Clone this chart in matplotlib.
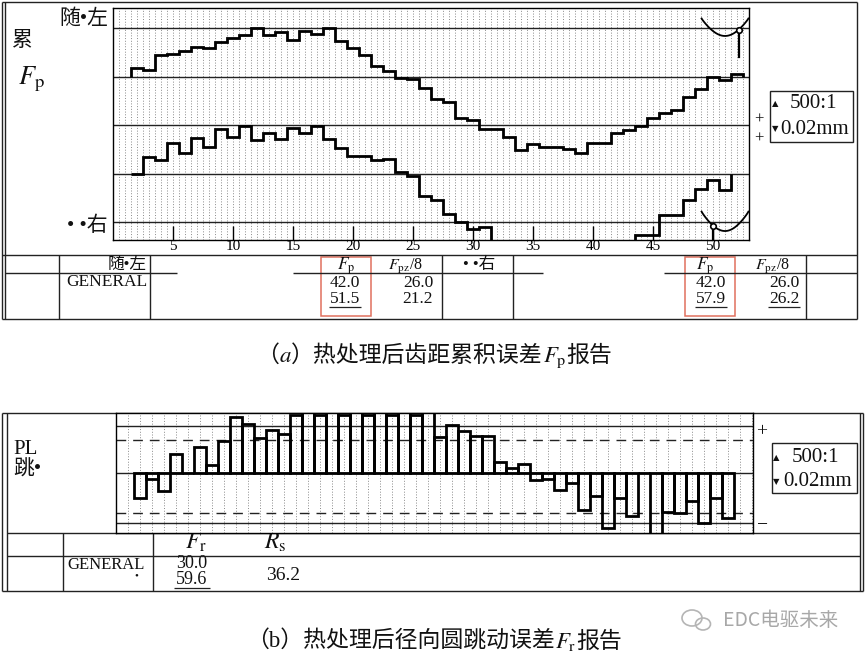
import numpy as np
import matplotlib
matplotlib.use("Agg")
import matplotlib.pyplot as plt
from matplotlib.patches import Rectangle, Ellipse

plt.rcParams["mathtext.fontset"] = "stix"
plt.rcParams["font.family"] = ["Liberation Serif", "Noto Sans CJK SC", "DejaVu Sans"]

W, H = 868, 659

# ---- (a) cumulative pitch deviation, one step per tooth (um) ----
left_flank = [3.7, 2.8, 8.8, 9.3, 10.5, 12.4, 11.7, 14.5, 16.1, 17.1, 20.0, 17.1, 18.6,
              15.2, 18.8, 17.8, 20.0, 14.6, 12.0, 8.9, 4.5, 2.2, -0.4, -1.1, -4.8, -9.0,
              -10.6, -17.0, -17.8, -21.4, -21.6, -24.8, -30.0, -27.9, -29.0, -29.0, -29.8,
              -31.5, -27.2, -27.2, -23.1, -22.0, -20.3, -17.2, -15.1, -13.7, -8.2, -5.2,
              -0.2, -1.4, 1.1]
right_flank = [0.0, 6.9, 5.7, 12.7, 8.6, 14.6, 11.0, 18.6, 15.3, 19.6, 13.8, 16.6, 14.5,
               19.0, 16.9, 19.6, 14.5, 10.5, 7.3, 7.3, 5.5, 5.9, 0.7, -1.0, -9.2, -11.0,
               -16.6, -20.0, -22.8, -22.1, -30.5, -33.0, -35.0, -36.5, -37.5, -38.2, -37.8,
               -36.6, -35.2, -33.4, -31.3, -29.2, -25.4, -25.4, -17.2, -17.2, -11.0, -6.2,
               -2.4, -6.5]
ticks_a = [5, 10, 15, 20, 25, 30, 35, 40, 45, 50]

# ---- (b) radial runout per tooth (um) ----
runout = [-10.3, -2.5, -7.5, 8.1, 0.0, 10.9, 3.3, 13.4, 23.3, 20.2, 14.4, 17.7, 16.1,
          24.0, 27.0, 24.0, 28.0, 24.0, 29.6, 24.0, 28.0, 24.0, 27.5, 24.0, 26.5,
          15.0, 20.0, 17.6, 15.3, 15.4, 4.8, 2.3, 3.8, -2.8, -2.2, -6.8, -4.2, -15.1,
          -9.5, -22.4, -10.1, -17.6, 0.0, -30.0, -15.8, -16.3, -11.5, -20.5, -10.2, -18.5]

fig = plt.figure(figsize=(W / 100, H / 100), dpi=100)

# overlay in pixel coordinates for frames, tables and labels
ov = fig.add_axes([0, 0, 1, 1])
ov.set_xlim(0, W)
ov.set_ylim(H, 0)
ov.axis("off")


def px_axes(x0, y0, x1, y1):
    return fig.add_axes([x0 / W, 1 - y1 / H, (x1 - x0) / W, (y1 - y0) / H])


def hline(y, x0, x1, lw=1.0, color="#222222"):
    ov.plot([x0, x1], [y, y], color=color, lw=lw, solid_capstyle="butt")


def vline(x, y0, y1, lw=1.0, color="#222222"):
    ov.plot([x, x], [y0, y1], color=color, lw=lw, solid_capstyle="butt")


def txt(x, y, s, size=12, ha="center", va="center", **kw):
    ov.text(x, y, s, fontsize=size, ha=ha, va=va, color="#111111", **kw)


def rich(xc, y, parts, size):
    """Lay text pieces side by side (CJK and mathtext can't share one string)."""
    r = fig.canvas.get_renderer()
    items = [ov.text(0, y, s, fontsize=size, ha="left", va="baseline", color="#111111")
             for s in parts]
    widths = [t.get_window_extent(r).width for t in items]
    x = xc - sum(widths) / 2
    for t, w in zip(items, widths):
        t.set_x(x)
        x += w


def underline(xc, y, half=16):
    hline(y, xc - half, xc + half, lw=0.9)


def flank_symbol(ax, c, top, depth, t_dot, dot_to):
    t = np.linspace(-1, 1, 80)
    s = ((1 + np.cos(np.pi * t)) / 2) ** 0.45
    xs = c + 1.95 * t
    ys = top - depth * s
    ax.plot(xs, ys, color="k", lw=1.3, clip_on=False)
    sd = ((1 + np.cos(np.pi * t_dot)) / 2) ** 0.45
    xd, yd = c + 1.95 * t_dot, top - depth * sd
    ax.plot([xd, xd], [yd, dot_to], color="k", lw=1.6, clip_on=False)
    ax.plot(xd, yd, "o", ms=4, mfc="white", mec="k", mew=1.2, clip_on=False)


# ================= panel (a) =================
ax = px_axes(113, 8.3, 749, 240)
ax.set_xlim(0, 53)
ax.set_ylim(-67.3, 28.2)
for x in np.arange(0.5, 53, 0.5):
    ax.axvline(x, color="#8a8a8a", lw=0.7, ls=(0, (1, 1.8)), zorder=1)
for y in [20, 0, -20, -40, -60]:
    ax.axhline(y, color="#222222", lw=1.0, zorder=2)

edges_l = np.arange(len(left_flank) + 1) + 1.5
edges_r = np.arange(len(right_flank) + 1) + 1.5
ax.stairs(left_flank, edges_l, baseline=0, color="k", lw=2.0, zorder=3)
ax.stairs(np.array(right_flank) - 40, edges_r, baseline=-40, color="k", lw=2.0, zorder=3)

flank_symbol(ax, 51.0, 24.0, 7.2, 0.58, 8.3)
flank_symbol(ax, 51.0, -55.6, 8.0, -0.5, -67.3)

ax.set_xticks(ticks_a)
ax.tick_params(axis="x", direction="in", length=10, width=1, labelsize=11, pad=0.3)
ax.set_yticks([])
for sp in ax.spines.values():
    sp.set_linewidth(1.0)

# frame (a)
hline(1.5, 1.5, 857)
vline(1.5, 1.5, 319)
vline(5.0, 1.5, 319)
vline(857, 1.5, 319)
hline(255, 1.5, 857)
hline(319, 1.5, 857)
hline(273, 5, 177)
hline(273, 293, 543)
hline(273, 664, 857)
for xv in [59, 150, 442, 513, 806]:
    vline(xv, 255, 319)

txt(108, 19, "随•左", 15, ha="right")
txt(22, 42, "累", 15)
txt(31, 79, r"$F_{\mathrm{p}}$", 19)
txt(108, 226, "• •右", 15, ha="right")
txt(759, 120, "+", 12)
txt(759, 139, "+", 12)
ov.add_patch(Rectangle((770, 91), 83, 51, fill=False, lw=1.0, ec="#222222"))
txt(775, 104, "▲", 6, family="DejaVu Sans")
txt(775, 129, "▼", 6, family="DejaVu Sans")
txt(813, 104, "500:1", 15)
txt(815, 129, "0.02mm", 15)

# table (a)
txt(147, 265, "随•左", 12, ha="right")
txt(147, 282, "GENERAL", 12.5, ha="right")
txt(346, 266, r"$F_{\mathrm{p}}$", 12.5)
txt(405, 266, r"$F_{\mathrm{pz}}$/8", 11.5)
txt(345, 283, "42.0", 12.5)
txt(345, 299, "51.5", 12.5)
underline(345, 307)
txt(433, 283, "26.0", 12.5, ha="right")
txt(433, 299, "21.2", 12.5, ha="right")
txt(479, 265, "• •右", 12)
txt(705, 266, r"$F_{\mathrm{p}}$", 12.5)
txt(772, 266, r"$F_{\mathrm{pz}}$/8", 11.5)
txt(711, 283, "42.0", 12.5)
txt(711, 299, "57.9", 12.5)
underline(711, 307)
txt(800, 283, "26.0", 12.5, ha="right")
txt(800, 299, "26.2", 12.5, ha="right")
underline(784, 307)
for bx in [321, 685]:
    ov.add_patch(Rectangle((bx, 257), 50, 59, fill=False, lw=1.1, ec="#e0705e"))

rich(434, 362, ["（", "$a$", "）热处理后齿距累积误差", r"$F_{\mathrm{p}}$", "报告"], 16.5)

# ================= panel (b) =================
bx_ = px_axes(116, 413.3, 753, 532.7)
bx_.set_xlim(0, 53.08)
bx_.set_ylim(-24.5, 24.74)
for x in np.arange(1, 54):
    bx_.axvline(x, color="#8a8a8a", lw=0.7, ls=(0, (1, 1.8)), zorder=1)
for y in [19.6, 0, -20.6]:
    bx_.axhline(y, color="#222222", lw=1.0, zorder=2)
for y in [13.7, -16.2]:
    bx_.axhline(y, color="#222222", lw=1.0, ls=(0, (7, 5)), zorder=2)
bx_.bar(np.arange(2, 2 + len(runout)), runout, width=1.0, fill=False,
        edgecolor="k", lw=2.0, zorder=3)
bx_.set_xticks([])
bx_.set_yticks([])
for sp in bx_.spines.values():
    sp.set_linewidth(1.0)

# frame (b)
hline(413.3, 1.5, 863)
vline(1.7, 413.3, 591)
vline(7.3, 413.3, 591)
vline(860, 413.3, 591)
vline(863.3, 413.3, 591)
hline(533, 7.3, 860)
hline(556, 7.3, 860)
hline(591, 1.5, 863.3)
vline(63.3, 533, 591)
vline(152.7, 533, 591)

txt(13, 450, "PL", 15, ha="left")
txt(13, 470, "跳•", 15, ha="left")
txt(762, 432, "+", 14)
txt(762, 525, "−", 14)
ov.add_patch(Rectangle((771.7, 443.3), 85.6, 50, fill=False, lw=1.0, ec="#222222"))
txt(776, 458, "▲", 6, family="DejaVu Sans")
txt(776, 482, "▼", 6, family="DejaVu Sans")
txt(815, 458, "500:1", 15)
txt(818, 482, "0.02mm", 15)

txt(196, 542, r"$F_{\mathrm{r}}$", 17)
txt(275, 542, r"$R_{\mathrm{s}}$", 17)
txt(67, 565, "GENERAL", 12, ha="left")
txt(136, 576, "•", 8)
txt(192, 563, "30.0", 13)
txt(192, 579, "59.6", 13)
underline(192, 588, 18)
txt(283, 576, "36.2", 14)

rich(434, 648, ["（b）热处理后径向圆跳动误差", r"$F_{\mathrm{r}}$", "报告"], 16.5)

# watermark
ov.add_patch(Ellipse((692, 618), 20, 16, fill=False, ec="#b5b5b5", lw=1.2))
ov.add_patch(Ellipse((703, 624), 15, 12, fill=False, ec="#b5b5b5", lw=1.2))
ov.text(781, 620, "EDC电驱未来", fontsize=14, ha="center", va="center",
        color="#a8a8a8", family=["Noto Sans CJK SC", "DejaVu Sans"])

fig.savefig("out.png", dpi=100)
